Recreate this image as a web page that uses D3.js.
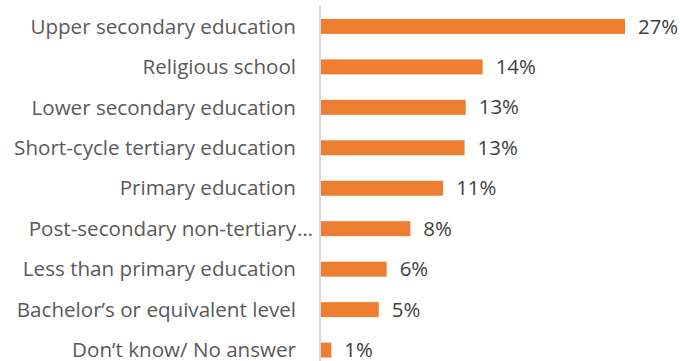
<!DOCTYPE html>
<html>
<head>
<meta charset="utf-8">
<style>
  body { margin: 0; background: #fff; }
  .cat { font: 20.6px "Open Sans", sans-serif; fill: #595959; }
  .val { font: 20.4px "Open Sans", sans-serif; fill: #404040; }
</style>
</head>
<body>
<script src="https://cdn.jsdelivr.net/npm/d3@7"></script>
<script>
// categories, top to bottom
var categories = [
  "Upper secondary education",
  "Religious school",
  "Lower secondary education",
  "Short-cycle tertiary education",
  "Primary education",
  "Post-secondary non-tertiary\u2026",
  "Less than primary education",
  "Bachelor\u2019s or equivalent level",
  "Don\u2019t know/ No answer"
];
// share of respondents, %
var values = [27, 14.4, 12.9, 12.8, 10.9, 8.0, 5.9, 5.2, 1.0];

var W = 680, H = 361;
var margin = {top: 6, right: 10, bottom: 0, left: 320};

var svg = d3.select("body").append("svg")
    .attr("width", W)
    .attr("height", H);

// 27% ends at x=625 -> about 11.3 px per point
var x = d3.scaleLinear().domain([0, 27]).range([margin.left, 625]);
var y = d3.scaleBand().domain(categories)
    .range([margin.top, margin.top + 40.5 * categories.length])
    .paddingInner(0.63).paddingOuter(0.32);

var data = categories.map(function(c, i) { return {cat: c, v: values[i]}; });

svg.selectAll("rect.bar")
  .data(data)
  .enter().append("rect")
    .attr("class", "bar")
    .attr("x", x(0))
    .attr("y", function(d) { return y(d.cat); })
    .attr("width", function(d) { return x(d.v) - x(0); })
    .attr("height", y.bandwidth())
    .attr("fill", "#ed7d31");

// category labels (a trailing ellipsis hangs past the label edge, like Excel does)
var labels = svg.selectAll("g.cat")
  .data(data)
  .enter().append("g")
    .attr("transform", function(d) { return "translate(296," + (y(d.cat) + y.bandwidth() / 2) + ")"; });

labels.append("text")
    .attr("class", "cat")
    .attr("dy", "0.35em")
    .attr("text-anchor", "end")
    .text(function(d) { return d.cat.replace(/\u2026$/, ""); });

labels.filter(function(d) { return /\u2026$/.test(d.cat); })
  .append("text")
    .attr("class", "cat")
    .attr("x", 1)
    .attr("dy", "0.35em")
    .text("\u2026");

// value labels
var fmt = d3.format(".0f");
svg.selectAll("text.val")
  .data(data)
  .enter().append("text")
    .attr("class", "val")
    .attr("x", function(d) { return x(d.v) + 13; })
    .attr("y", function(d) { return y(d.cat) + y.bandwidth() / 2; })
    .attr("dy", "0.35em")
    .text(function(d) { return fmt(d.v) + "%"; });

// vertical axis line
svg.append("line")
    .attr("x1", x(0)).attr("x2", x(0))
    .attr("y1", margin.top).attr("y2", H)
    .attr("stroke", "#d9d9d9")
    .attr("stroke-width", 2);
</script>
</body>
</html>
